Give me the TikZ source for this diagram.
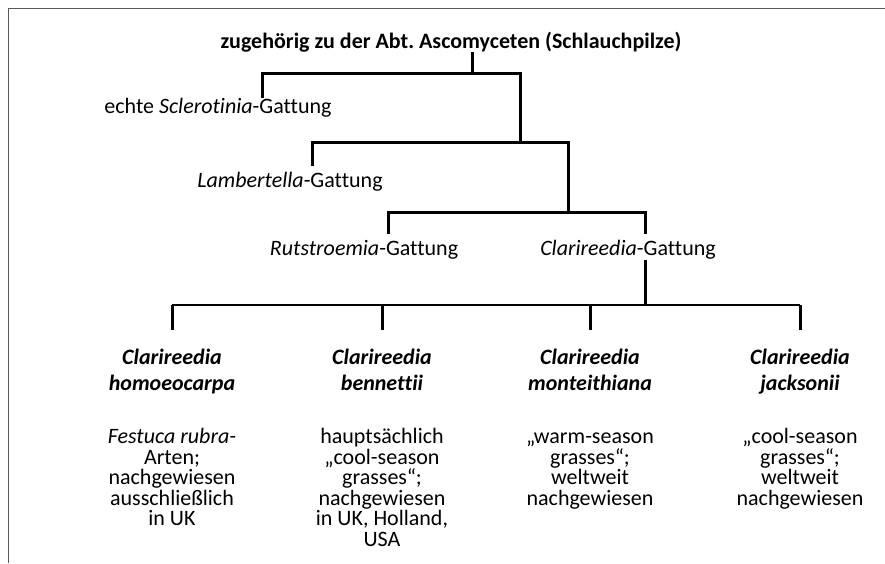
\documentclass[tikz,border=0pt]{standalone}
\usepackage{fontspec}
\setmainfont{Carlito}[Ligatures=NoCommon]
\usetikzlibrary{positioning}

\begin{document}
\begin{tikzpicture}[x=1pt, y=-1pt,
        every node/.style={inner sep=0pt, font=\fontsize{22}{25}\selectfont},
        headline/.style={font=\fontsize{22}{25}\selectfont\bfseries},
        species/.style={align=center, anchor=north, font=\fontsize{22}{26}\selectfont\bfseries\itshape},
        infotext/.style={align=center, anchor=north, font=\fontsize{22}{20.6}\selectfont},
        branch/.style={line width=3pt},
        thinbranch/.style={line width=2pt},
        frame/.style={draw=black!65, line width=1.3pt}]
    \useasboundingbox (0,0) rectangle (885,563);
    \draw[frame] (885,8.5) -- (8.5,8.5) -- (8.5,563);

    \node[headline] (top) at (451,42) {zugehörig zu der Abt.\ Ascomyceten (Schlauchpilze)};
    \node (scler) at (218,108) {echte \textit{Sclerotinia}-Gattung};
    \node (lamb) at (290,182) {\textit{Lambertella}-Gattung};
    \node (rut) at (364,250) {\textit{Rutstroemia}-Gattung};
    \node (clar) at (628,250) {\textit{Clarireedia}-Gattung};

    \node[species] (homo) at (172,349) {\vphantom{h}Clarireedia\\homoeocarpa};
    \node[species] (benn) at (382,349) {\vphantom{h}Clarireedia\\bennettii};
    \node[species] (mont) at (590,349) {\vphantom{h}Clarireedia\\monteithiana};
    \node[species] (jack) at (800,349) {\vphantom{h}Clarireedia\\jacksonii};

    \node[infotext] (homoinfo) at (172,428) {\vphantom{h}\textit{Festuca rubra-}\\Arten;\\nachgewiesen\\ausschließlich\\in UK};
    \node[infotext] (benninfo) at (382,428) {\vphantom{h}hauptsächlich\\„cool-season\\grasses“;\\nachgewiesen\\in UK, Holland,\\USA};
    \node[infotext] (montinfo) at (590,428) {\vphantom{h}„warm-season\\grasses“;\\weltweit\\nachgewiesen};
    \node[infotext] (jackinfo) at (800,428) {\vphantom{h}„cool-season\\grasses“;\\weltweit\\nachgewiesen};

    \coordinate (j0) at (472,73);
    \coordinate (j0l) at (262,73);
    \coordinate (j0r) at (520,73);
    \coordinate (j1l) at (312,142);
    \coordinate (j1r) at (568,142);
    \coordinate (j2l) at (388,212);
    \coordinate (j2r) at (645,212);
    \coordinate (j3l) at (172,305);
    \coordinate (j3r) at (800,305);

    \draw[branch] (top.south -| j0) -- (j0);
    \draw[branch] (scler.north -| j0l) -- (j0l) -- (j0r) -- (j0r |- j1l);
    \draw[branch] ([yshift=6pt]lamb.north -| j1l) -- (j1l) -- (j1r) -- (j1r |- j2l);
    \draw[branch] ([yshift=6pt]rut.north -| j2l) -- (j2l) -- (j2r) -- ([yshift=6pt]clar.north -| j2r);
    \draw[branch] (clar.south -| j2r) -- (j2r |- j3l);
    \draw[thinbranch] (j3l) -- (j3r);
    \foreach \s in {homo,benn,mont,jack}
        \draw[branch] (\s.north |- j3l) -- ([yshift=19pt]\s.north);
\end{tikzpicture}
\end{document}
